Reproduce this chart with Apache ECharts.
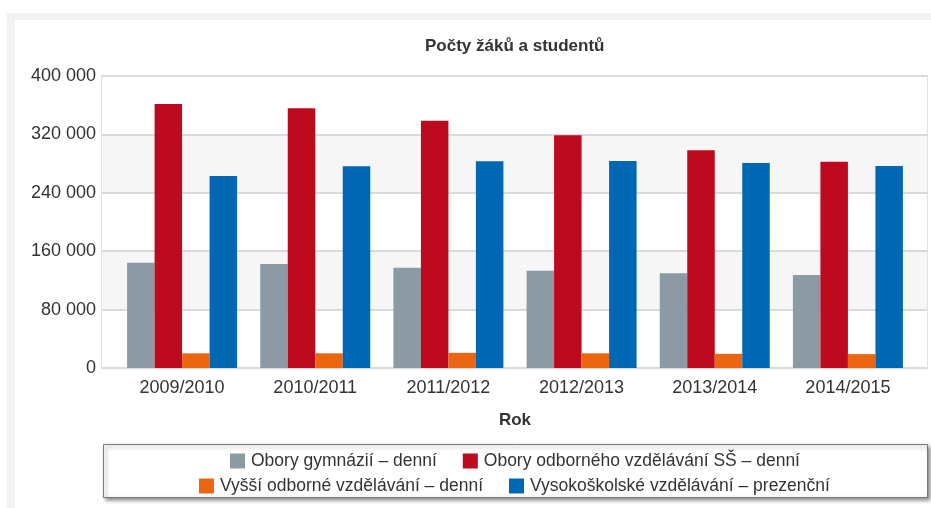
<!DOCTYPE html>
<html>
<head>
<meta charset="utf-8">
<script src="https://cdn.jsdelivr.net/npm/echarts@6/dist/echarts.min.js"></script>
<style>
html,body{margin:0;padding:0;background:#fff;}
#chart{width:931px;height:508px;}
</style>
</head>
<body>
<div id="chart"></div>
<script>
// ---- data ----
var categories = ['2009/2010', '2010/2011', '2011/2012', '2012/2013', '2013/2014', '2014/2015'];
var seriesNames = [
  'Obory gymnázií – denní',
  'Obory odborného vzdělávání SŠ – denní',
  'Vyšší odborné vzdělávání – denní',
  'Vysokoškolské vzdělávání – prezenční'
];
var gymnazia = [144300, 142500, 137400, 133300, 129700, 127400];
var odborne = [361600, 355700, 338800, 318700, 298200, 282700];
var vyssiOdborne = [20100, 20100, 20800, 20100, 19400, 19000];
var vysokoskolske = [263000, 276300, 283100, 283600, 280800, 276700];
var yTicks = [0, 80000, 160000, 240000, 320000, 400000];

var colors = ['#8b9aa3', '#bd0a1e', '#ea6611', '#0067b2'];
var FONT = '"Liberation Sans", Arial, sans-serif';

function fmt(v) {
  return String(v).replace(/\B(?=(\d{3})+(?!\d))/g, ' ');
}

var chart = echarts.init(document.getElementById('chart'), null, {renderer: 'canvas'});

var allValues = [gymnazia, odborne, vyssiOdborne, vysokoskolske];
var series = allValues.map(function (arr, i) {
  return {
    name: seriesNames[i],
    type: 'bar',
    xAxisIndex: 1,
    yAxisIndex: 1,
    data: arr,
    barWidth: 27.5,
    barGap: '0%',
    itemStyle: {color: colors[i]},
    emphasis: {disabled: true},
    animation: false
  };
});

var option = {
  animation: false,
  textStyle: {fontFamily: FONT},
  color: colors,
  title: {
    text: 'Počty žáků a studentů',
    left: 425,
    top: 38,
    padding: 0,
    textStyle: {fontFamily: FONT, fontSize: 17, fontWeight: 'bold', color: '#333333'}
  },
  graphic: [
    {type: 'rect', z: -10, silent: true, shape: {x: 7, y: 13, width: 924, height: 7}, style: {fill: '#f2f2f2'}},
    {type: 'rect', z: -10, silent: true, shape: {x: 7, y: 13, width: 8, height: 495}, style: {fill: '#f2f2f2'}},
    {type: 'rect', z: -5, silent: true,
      shape: {x: 103.5, y: 444.5, width: 824, height: 53},
      style: {fill: '#ffffff', stroke: '#7a7a7a', lineWidth: 1,
        shadowBlur: 4, shadowOffsetX: 2, shadowOffsetY: 2, shadowColor: 'rgba(0,0,0,0.45)'}}
  ],
  legend: [
    {
      data: seriesNames.slice(0, 2),
      left: 230, top: 452, padding: 0,
      itemWidth: 15, itemHeight: 15, itemGap: 26,
      icon: 'rect', selectedMode: false,
      textStyle: {fontFamily: FONT, fontSize: 17.5, color: '#333333', padding: [0, 0, 0, 1]}
    },
    {
      data: seriesNames.slice(2, 4),
      left: 199, top: 477, padding: 0,
      itemWidth: 15, itemHeight: 15, itemGap: 26,
      icon: 'rect', selectedMode: false,
      textStyle: {fontFamily: FONT, fontSize: 17.5, color: '#333333', padding: [0, 0, 0, 1]}
    }
  ],
  grid: [
    {left: 102, right: 4, top: 76, bottom: 140, show: true, borderColor: '#e2e2e2', borderWidth: 2, backgroundColor: 'transparent', containLabel: false},
    {left: 115.5, right: 16.5, top: 76, bottom: 140, containLabel: false}
  ],
  xAxis: [
    {type: 'category', gridIndex: 0, data: categories, show: false},
    {
      type: 'category', gridIndex: 1, data: categories,
      axisLine: {show: false}, axisTick: {show: false},
      axisLabel: {fontFamily: FONT, fontSize: 18, color: '#333333', margin: 11},
      name: 'Rok', nameLocation: 'middle', nameGap: 44,
      nameTextStyle: {fontFamily: FONT, fontSize: 17, fontWeight: 'bold', color: '#333333'}
    }
  ],
  yAxis: [
    {
      type: 'value', gridIndex: 0, min: yTicks[0], max: yTicks[yTicks.length - 1], interval: yTicks[1] - yTicks[0],
      axisLine: {show: false}, axisTick: {show: false},
      axisLabel: {fontFamily: FONT, fontSize: 18, color: '#333333', margin: 6, formatter: fmt},
      splitLine: {show: true, lineStyle: {color: '#dadada', width: 2}},
      splitArea: {show: true, areaStyle: {color: ['#ffffff', '#f6f6f6']}}
    },
    {
      type: 'value', gridIndex: 1, min: yTicks[0], max: yTicks[yTicks.length - 1], interval: yTicks[1] - yTicks[0],
      show: false, splitLine: {show: false}
    }
  ],
  series: series
};
chart.setOption(option);
</script>
</body>
</html>
